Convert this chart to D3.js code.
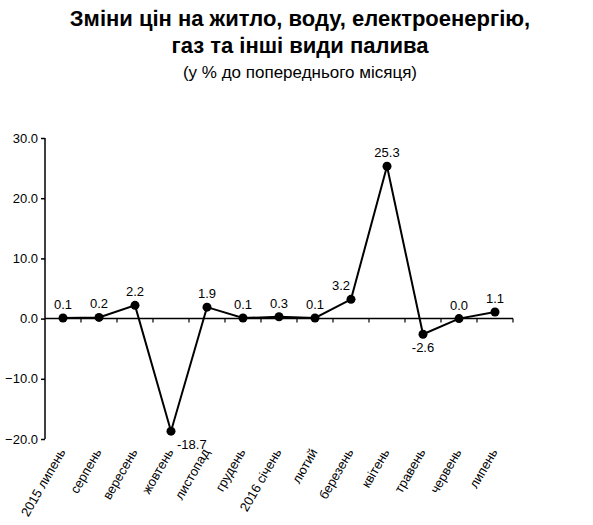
<!DOCTYPE html><html><head><meta charset="utf-8"><script src="https://cdn.jsdelivr.net/npm/d3@7"></script>
<style>body{margin:0;background:#fff}</style></head><body><svg id="c" width="593" height="525"></svg>
<script>
const categories=["2015 липень","серпень","вересень","жовтень","листопад","грудень","2016 січень","лютий","березень","квітень","травень","червень","липень"];
const values=[0.1,0.2,2.2,-18.7,1.9,0.1,0.3,0.1,3.2,25.3,-2.6,0.0,1.1];
const yTicks=[-20,-10,0,10,20,30];
const svg=d3.select("#c"),F="Liberation Sans, Arial, sans-serif";
const x=d3.scaleBand().domain(categories).range([45,513]);
const y=d3.scaleLinear().domain([-20,30]).range([439,138]);
svg.append("text").attr("x",300).attr("y",26).attr("text-anchor","middle").attr("font-family",F).attr("font-weight","bold").attr("font-size",22).text("Зміни цін на житло, воду, електроенергію,");
svg.append("text").attr("x",300).attr("y",53).attr("text-anchor","middle").attr("font-family",F).attr("font-weight","bold").attr("font-size",22).text("газ та інші види палива");
svg.append("text").attr("x",300).attr("y",78).attr("text-anchor","middle").attr("font-family",F).attr("font-size",17).text("(у % до попереднього місяця)");
const ya=svg.append("g").attr("transform","translate(45,0)").call(d3.axisLeft(y).tickValues(yTicks).tickSize(4).tickFormat(d3.format(".1f")));
ya.selectAll("text").attr("font-family",F).attr("font-size",13).attr("fill","#000");
ya.selectAll("path,line").attr("stroke","#000").attr("stroke-width",1.5);
ya.select("path").attr("d","M0,"+y(-20)+"V"+y(30));
const xa=svg.append("g").attr("transform","translate(0,"+y(0)+")");
xa.append("line").attr("x1",45).attr("x2",513).attr("stroke","#000").attr("stroke-width",1.5);
xa.selectAll("line.t").data(categories).join("line").attr("x1",d=>x(d)+x.bandwidth()).attr("x2",d=>x(d)+x.bandwidth()).attr("y1",0).attr("y2",4).attr("stroke","#000").attr("stroke-width",1.2);
svg.selectAll("text.xl").data(categories).join("text").attr("font-family",F).attr("font-size",13).attr("text-anchor","end")
 .attr("transform",d=>"translate("+(x(d)+x.bandwidth()/2+3)+",452) rotate(-60)").text(d=>d);
const cx=d=>x(d)+x.bandwidth()/2;
svg.append("path").datum(values).attr("fill","none").attr("stroke","#000").attr("stroke-width",2)
 .attr("d",d3.line().x((v,i)=>cx(categories[i])).y(v=>y(v)));
svg.selectAll("circle").data(values).join("circle").attr("cx",(v,i)=>cx(categories[i])).attr("cy",v=>y(v)).attr("r",4.5).attr("fill","#000");
svg.selectAll("text.v").data(values).join("text").attr("font-family",F).attr("font-size",13)
 .attr("text-anchor",(v,i)=>i==3?"start":"middle")
 .attr("x",(v,i)=>cx(categories[i])+(i==3?6:i==8?-10:0))
 .attr("y",(v,i)=>i==3?y(v)+18:(v<0?y(v)+18:y(v)-9)).text(v=>v.toFixed(1));
</script></body></html>
